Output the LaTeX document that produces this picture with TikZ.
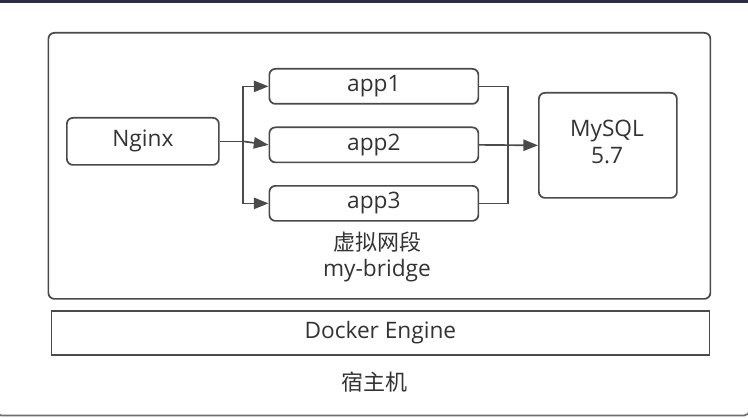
\documentclass[tikz,border=0pt]{standalone}
\usepackage{fontspec}
\setmainfont{Open Sans}
\newfontfamily\cjk{Noto Sans CJK SC}
\usetikzlibrary{arrows.meta}
\definecolor{lc}{HTML}{4A4A4A}
\definecolor{tc}{HTML}{333333}
\definecolor{topbar}{HTML}{2C2F3E}
\tikzset{
  box/.style={draw=lc, line width=1.3pt, rounded corners=4.5pt, text=tc, font=\fontsize{17pt}{20pt}\selectfont, align=center, inner sep=0pt},
  wire/.style={draw=lc, line width=1.25pt},
  arr/.style={wire, -{Triangle[length=11pt,width=8.5pt]}},
  lbl/.style={text=tc, font=\fontsize{17pt}{21pt}\selectfont, align=center, inner sep=0pt}
}
\begin{document}
\begin{tikzpicture}[x=0.75pt,y=-0.75pt]
\useasboundingbox (0,0) rectangle (748,417);
\fill[white] (0,0) rectangle (748,417);
% outer frame
\draw[lc!80, line width=1.3pt, rounded corners=4pt] (-4,-10) rectangle (749.5,415.5);
\fill[topbar] (0,0) rectangle (748,2.8);
% network area
\node[box, minimum width=662*0.75pt, minimum height=266*0.75pt, anchor=north west] (net) at (47.5,32) {};
% docker engine
\node[box, rounded corners=0pt, minimum width=658*0.75pt, minimum height=44*0.75pt, anchor=north west] (docker) at (50.5,310) {Docker Engine};
\node[lbl, font=\cjk\fontsize{16.5pt}{20pt}\selectfont] (host) at (374,382) {宿主机};
% nodes
\node[box, minimum width=152*0.75pt, minimum height=47*0.75pt, anchor=north west] (nginx) at (66,117) {Nginx};
\node[box, minimum width=209*0.75pt, minimum height=35*0.75pt, anchor=north west] (app1) at (268.5,68) {app1};
\node[box, minimum width=209*0.75pt, minimum height=35*0.75pt, anchor=north west] (app2) at (268.5,126.5) {app2};
\node[box, minimum width=209*0.75pt, minimum height=35*0.75pt, anchor=north west] (app3) at (268.5,185) {app3};
\node[box, minimum width=138*0.75pt, minimum height=105*0.75pt, anchor=north west] (mysql) at (538,92) {};
\node[lbl] (mysqltxt) at (607,142) {MySQL\\[-1pt]5.7};
\node[lbl] (netlbl) at (377,257) {{\cjk\fontsize{16.5pt}{20pt}\selectfont 虚拟网段}\\[-1pt]my-bridge};
% connectors
\coordinate (j1) at (243,0);
\coordinate (j2) at (508,0);
\draw[wire] (nginx.east) -- (nginx.east -| j1);
\draw[arr] (nginx.east -| j1) |- (app1.west);
\draw[arr] (nginx.east -| j1) -- (app2.west);
\draw[arr] (nginx.east -| j1) |- (app3.west);
\draw[wire] (app1.east) -| (app2.east -| j2);
\draw[wire] (app3.east) -| (app2.east -| j2);
\draw[arr] (app2.east) -- (mysql.west);
\end{tikzpicture}
\end{document}
